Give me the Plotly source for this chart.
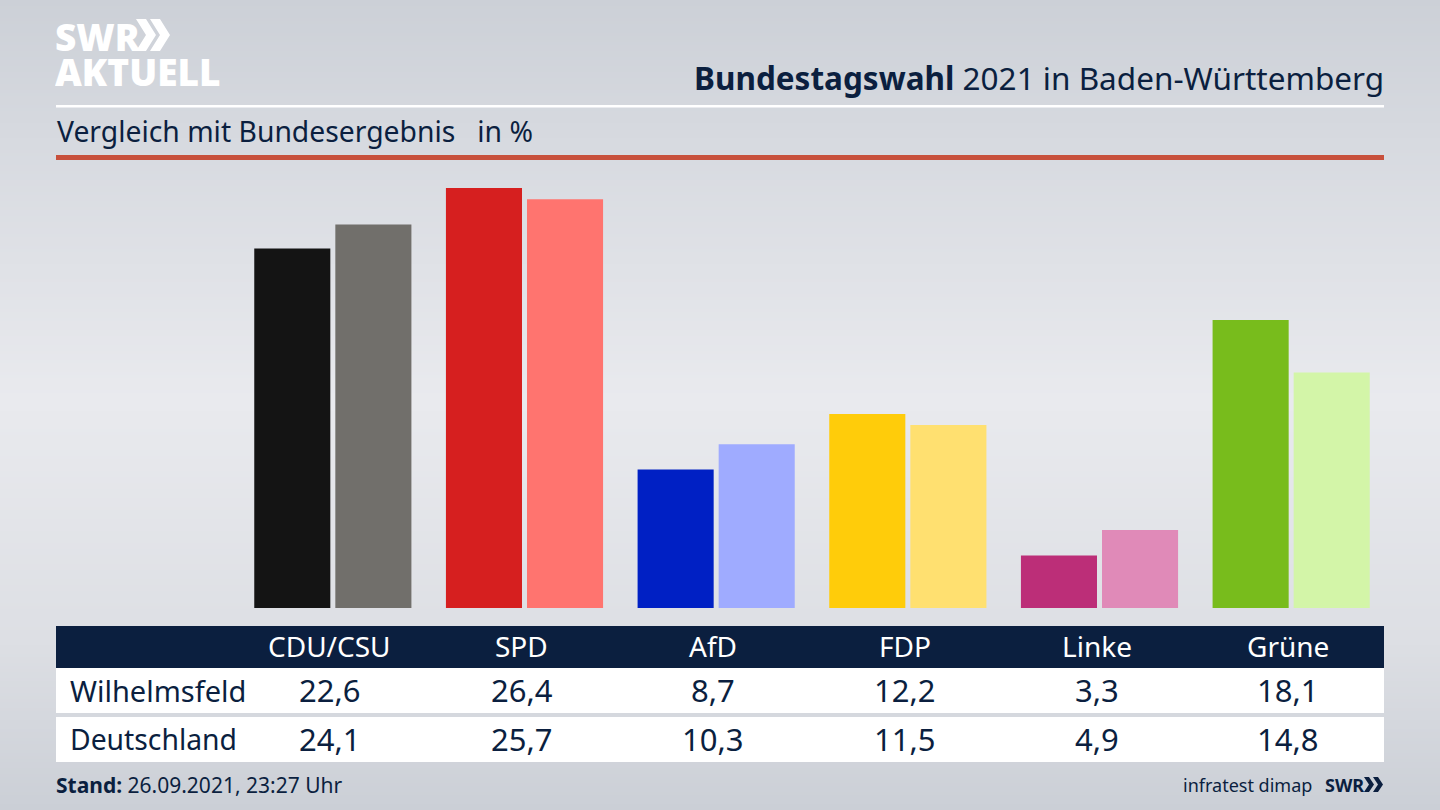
import plotly.graph_objects as go

parties = ["CDU/CSU", "SPD", "AfD", "FDP", "Linke", "Grüne"]
wilhelmsfeld = [22.6, 26.4, 8.7, 12.2, 3.3, 18.1]
deutschland = [24.1, 25.7, 10.3, 11.5, 4.9, 14.8]
colors_local = ["#141414", "#d61f1f", "#0020c4", "#ffcc0a", "#bc2e78", "#78bc1c"]
colors_national = ["#716f6b", "#ff746f", "#9fabff", "#ffe070", "#e08ab8", "#d3f5a8"]

W, H = 1440, 810
NAVY = "#0b1f3f"
FONT = "Noto Sans"


def px(x):
    return x / W


def py(y):
    return 1 - y / H


def rect(x0, y0, x1, y1, color, layer="below"):
    return dict(type="rect", xref="paper", yref="paper", x0=px(x0), x1=px(x1), y0=py(y1), y1=py(y0),
                fillcolor=color, line_width=0, layer=layer)


def bg_color(y):
    stops = [(0, (204, 208, 215)), (130, (214, 217, 223)), (400, (233, 234, 238)),
             (640, (221, 223, 228)), (810, (203, 207, 214))]
    for (a, ca), (b, cb) in zip(stops, stops[1:]):
        if a <= y <= b:
            t = (y - a) / (b - a)
            return "rgb(%d,%d,%d)" % tuple(round(p + (q - p) * t) for p, q in zip(ca, cb))
    return "rgb(203,207,214)"


def chevron(x, y, w, h, color):
    pts = [(x, y), (x + w * 0.5, y), (x + w, y + h / 2), (x + w * 0.5, y + h), (x, y + h), (x + w * 0.5, y + h / 2)]
    d = "M " + " L ".join(f"{px(a):.5f},{py(b):.5f}" for a, b in pts) + " Z"
    return dict(type="path", xref="paper", yref="paper", path=d, fillcolor=color, line_width=0, layer="above")


shapes = [rect(0, y, W, H, bg_color(y + 1.5)) for y in range(0, H, 3)]
shapes += [
    rect(56, 105, 1384, 107.5, "#ffffff"),
    rect(56, 155, 1384, 160, "#c8503c"),
    rect(56, 626, 1384, 668, NAVY),
    rect(56, 668, 1384, 713, "#ffffff"),
    rect(56, 717, 1384, 762, "#ffffff"),
    chevron(136, 19, 20, 32, "#ffffff"),
    chevron(150, 19, 20, 32, "#ffffff"),
    chevron(1364, 777, 10, 15, NAVY),
    chevron(1373, 777, 10, 15, NAVY),
]


def text(x, y, s, size, color=NAVY, anchor="left", xref="paper", xshift=0, **extra):
    font = dict(family=FONT, size=size, color=color)
    font.update(extra.pop("font_extra", {}))
    return dict(x=px(x) if xref == "paper" else x, y=py(y), xref=xref, yref="paper", text=s, showarrow=False,
                xanchor=anchor, yanchor="middle", align=anchor, borderpad=0, borderwidth=0, xshift=xshift,
                font=font, **extra)


annotations = [
    text(1384, 77, "<b>Bundestagswahl</b> 2021 in Baden-Württemberg", 31.5, anchor="right"),
    text(57, 131, "Vergleich mit Bundesergebnis\u00a0\u00a0\u00a0in %", 28.3),
    text(55, 36, "SWR", 37, "#ffffff", height=34, font_extra=dict(weight=900)),
    text(55, 71, "AKTUELL", 37, "#ffffff", height=34, font_extra=dict(weight=900)),
    text(70, 690, "Wilhelmsfeld", 29),
    text(70, 739, "Deutschland", 28.3),
    text(56, 785, "<b>Stand:</b> 26.09.2021, 23:27 Uhr", 21),
    text(1312, 785, "infratest dimap", 18, anchor="right"),
    text(1364, 785, "<b>SWR</b>", 18, anchor="right"),
]
for party, a, b in zip(parties, wilhelmsfeld, deutschland):
    annotations.append(text(party, 646, party, 28, "#ffffff", "center", "x", xshift=-3))
    annotations.append(text(party, 690, f"{a:.1f}".replace(".", ","), 31, NAVY, "center", "x", xshift=-3))
    annotations.append(text(party, 739, f"{b:.1f}".replace(".", ","), 31, NAVY, "center", "x", xshift=-3))

fig = go.Figure()
fig.add_bar(x=parties, y=wilhelmsfeld, name="Wilhelmsfeld", marker=dict(color=colors_local, line_width=0))
fig.add_bar(x=parties, y=deutschland, name="Deutschland", marker=dict(color=colors_national, line_width=0))
fig.update_layout(
    width=W, height=H, margin=dict(l=0, r=0, t=0, b=0, pad=0), autosize=False,
    barmode="group", bargap=0.154, bargroupgap=0.0617, showlegend=False,
    paper_bgcolor="rgba(0,0,0,0)", plot_bgcolor="rgba(0,0,0,0)",
    xaxis=dict(visible=False, domain=[237 / W, 1387 / W], categoryorder="array", categoryarray=parties),
    yaxis=dict(visible=False, domain=[202 / H, 650 / H], range=[0, 28.16]),
    shapes=shapes, annotations=annotations, font=dict(family=FONT),
)
fig.write_html("out.html", config=dict(displayModeBar=False),
               post_script="document.body.style.margin='0';document.body.style.overflow='hidden';")
